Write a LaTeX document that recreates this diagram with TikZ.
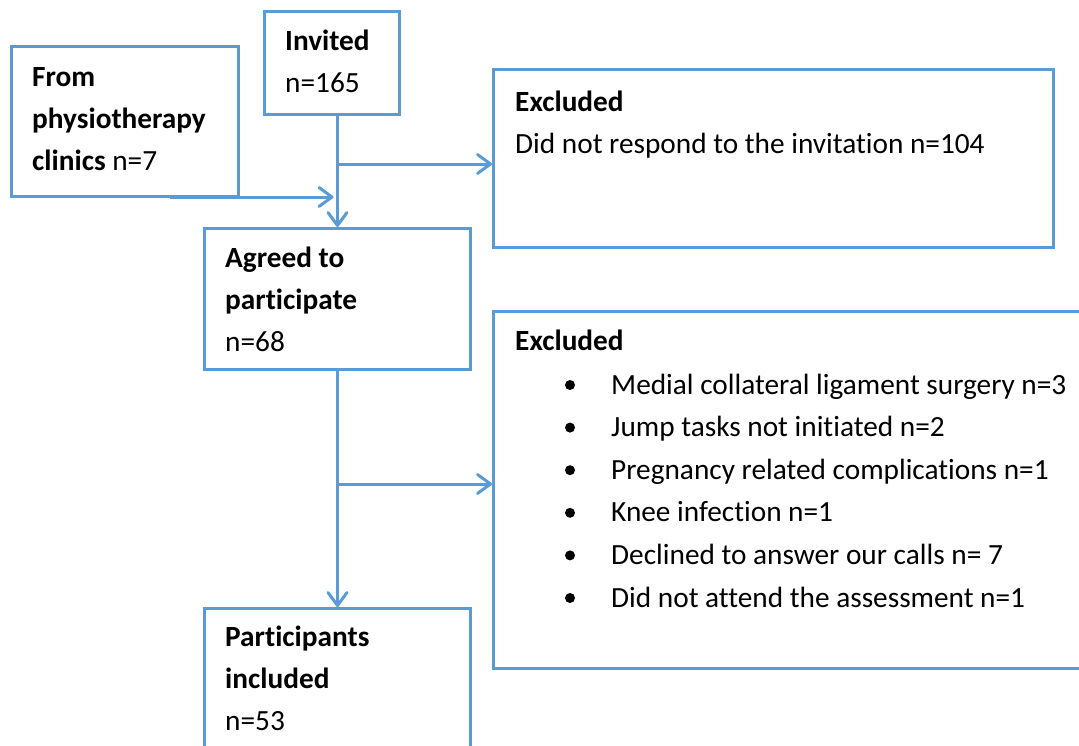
\documentclass[tikz,border=0pt]{standalone}
\usepackage{fontspec}
\setmainfont{Carlito}[Ligatures=NoCommon]
\usetikzlibrary{arrows.meta,positioning}
\definecolor{flowblue}{HTML}{5B9BD5}

\begin{document}
\begin{tikzpicture}[x=1pt,y=-1pt,
  box/.style={draw=flowblue,line width=3pt,anchor=north west,inner sep=0pt},
  txt/.style={anchor=base west,inner sep=0pt,align=left,font=\fontsize{29.3}{42}\selectfont},
  flow/.style={draw=flowblue,line width=3pt,-{Straight Barb[length=13pt,width=19pt,line cap=round,line join=round]}}]
\useasboundingbox (0,0) rectangle (1079,745);
\clip (0,0) rectangle (1079,745);
% boxes
\node[box,minimum width=227pt,minimum height=150pt] (from) at (10,45) {};
\node[box,minimum width=135pt,minimum height=103pt] (invited) at (263,10) {};
\node[box,minimum width=560pt,minimum height=178pt] (excl1) at (492,68) {};
\node[box,minimum width=266pt,minimum height=141pt] (agreed) at (203,227) {};
\node[box,minimum width=620pt,minimum height=357pt] (excl2) at (492,310) {};
\node[box,minimum width=266pt,minimum height=200pt] (incl) at (203,607) {};
% texts (base = last line)
\node[txt] (fromtxt) at ([shift={(22,125)}]from.north west) {\textbf{From}\\\textbf{physiotherapy}\\\textbf{clinics} n=7};
\node[txt] (invtxt) at ([shift={(22,82)}]invited.north west) {\textbf{Invited}\\n=165};
\node[txt] (ex1txt) at ([shift={(23,85)}]excl1.north west) {\textbf{Excluded}\\Did not respond to the invitation n=104};
\node[txt] (agrtxt) at ([shift={(22,124)}]agreed.north west) {\textbf{Agreed to}\\\textbf{participate}\\n=68};
\node[txt] (ex2txt) at ([shift={(23,40)}]excl2.north west) {\textbf{Excluded}};
\foreach \i/\lbl in {0/Medial collateral ligament surgery n=3, 1/Jump tasks not initiated n=2,
  2/Pregnancy related complications n=1, 3/Knee infection n=1,
  4/Declined to answer our calls n= 7, 5/Did not attend the assessment n=1}{
  \node[circle,fill,inner sep=0pt,minimum size=10pt] (dot\i) at ([shift={(78,75+42.6*\i)}]excl2.north west) {};
  \node[txt] (item\i) at ([shift={(119,84+42.6*\i)}]excl2.north west) {\lbl};
}
\node[txt] (incltxt) at ([shift={(22,123)}]incl.north west) {\textbf{Participants}\\\textbf{included}\\n=53};
% connectors
\coordinate (f1) at (170,197);
\coordinate (b1) at (336,164);
\coordinate (b2) at (336,484);
\draw[flow] (invited.south -| agreed.north) -- (agreed.north);
\draw[flow] (b1) -- (b1 -| excl1.west);
\draw[flow] (f1) -- ([xshift=-4pt]f1 -| agreed.north);
\draw[flow] (agreed.south) -- (incl.north);
\draw[flow] (b2) -- (b2 -| excl2.west);
\end{tikzpicture}
\end{document}
